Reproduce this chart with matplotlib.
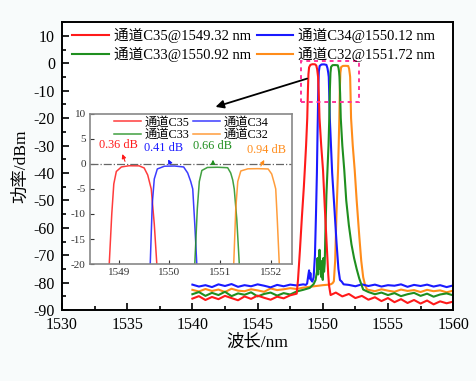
import numpy as np
import matplotlib
matplotlib.use('Agg')
import matplotlib.pyplot as plt
from matplotlib.patches import Rectangle
from matplotlib.ticker import MultipleLocator

plt.rcParams['font.family'] = ['Liberation Serif', 'Noto Sans CJK SC']
plt.rcParams['axes.unicode_minus'] = False

# canales: etiqueta, color
canales = ['C35', 'C34', 'C33', 'C32']
centros = ['1549.32', '1550.12', '1550.92', '1551.72']
colores = ['#ff1a1a', '#1a1aff', '#1f8f1f', '#ff8c1a']
perdidas = ['0.36 dB', '0.41 dB', '0.66 dB', '0.94 dB']

# piso de ruido, muestreado cada 0.5 nm entre 1540 y 1560
fondo_wl = np.arange(1540.0, 1560.01, 0.5)
fondo_c35 = [-85.8, -84.9, -86.3, -85.2, -86.0, -84.8, -85.6, -86.4, -85.0, -85.9, -84.7,
             -85.5, -86.2, -85.1, -85.7, -84.6, -85.3, -84.5, -84.0, -84.0, -84.2, -84.6,
             -83.6, -85.0, -84.1, -85.6, -84.8, -86.2, -85.3, -86.7, -85.6, -87.1, -86.0,
             -87.4, -86.3, -87.6, -86.5, -87.9, -86.8, -87.5, -86.9]
fondo_c34 = [-80.7, -81.4, -80.9, -81.6, -80.6, -81.2, -80.5, -81.5, -80.9, -81.3, -80.6,
             -81.1, -81.7, -80.8, -81.3, -80.7, -81.0, -80.6, -80.5, -80.5, -80.5, -80.5,
             -80.5, -80.5, -80.8, -81.3, -80.6, -81.2, -80.7, -81.4, -80.9, -81.1, -80.6,
             -81.5, -80.8, -81.2, -80.7, -81.4, -80.9, -81.6, -81.0]
fondo_c33 = [-84.2, -83.4, -84.8, -83.7, -84.5, -83.3, -84.9, -83.9, -84.4, -83.5, -85.0,
             -84.1, -83.6, -84.7, -83.8, -84.3, -83.2, -82.6, -81.9, -81.0, -81.0, -81.0,
             -81.0, -81.0, -81.0, -81.0, -82.8, -83.4, -84.2, -83.6, -84.5, -83.8, -84.9,
             -84.2, -83.7, -84.8, -84.0, -85.1, -84.3, -83.9, -84.6]
fondo_c32 = [-82.6, -83.2, -82.3, -83.0, -82.5, -83.4, -82.2, -82.9, -83.1, -82.4, -82.8,
             -83.3, -82.1, -82.7, -82.4, -82.0, -82.3, -81.8, -81.5, -81.2, -80.9, -80.7,
             -81.0, -81.0, -81.0, -81.0, -81.0, -82.6, -83.1, -82.4, -82.9, -83.3, -82.5,
             -83.0, -82.7, -83.4, -82.6, -83.1, -82.8, -83.5, -82.9]

# picos de cada canal (nm, dBm)
pico_c35_wl = [1548.0, 1548.1, 1548.25, 1548.4, 1548.55, 1548.62, 1548.72, 1548.81, 1548.86,
               1548.9, 1548.95, 1549.05, 1549.2, 1549.4, 1549.5, 1549.57, 1549.64, 1549.7,
               1549.75, 1549.88, 1550.02, 1550.15, 1550.3, 1550.42, 1550.48, 1550.6]
pico_c35_p = [-84.0, -79.0, -68.0, -56.0, -45.0, -39.0, -30.0, -20.0, -10.0,
              -4.0, -1.5, -0.6, -0.36, -0.38, -0.8, -2.2, -5.0, -12.0,
              -20.0, -30.0, -39.0, -52.0, -66.0, -77.0, -81.0, -84.5]

pico_c34_wl = [1548.7, 1548.8, 1548.9, 1548.95, 1549.0, 1549.05, 1549.1, 1549.2, 1549.3,
               1549.4, 1549.48, 1549.55, 1549.6, 1549.62, 1549.66, 1549.7, 1549.76, 1549.9,
               1550.1, 1550.28, 1550.36, 1550.42, 1550.46, 1550.5, 1550.54, 1550.63, 1550.72,
               1550.88, 1551.05, 1551.2, 1551.32, 1551.45, 1551.6]
pico_c34_p = [-80.8, -80.3, -77.0, -75.5, -78.5, -76.5, -79.0, -79.6, -78.0,
              -70.0, -55.0, -40.0, -25.0, -20.0, -8.0, -3.0, -1.0, -0.45,
              -0.41, -0.6, -1.8, -3.5, -5.0, -12.0, -20.0, -30.0, -40.0,
              -52.0, -65.0, -75.0, -79.0, -79.6, -80.6]

pico_c33_wl = [1549.3, 1549.45, 1549.55, 1549.6, 1549.65, 1549.7, 1549.75, 1549.8, 1549.85,
               1549.9, 1549.95, 1550.0, 1550.05, 1550.1, 1550.15, 1550.2, 1550.28, 1550.36,
               1550.44, 1550.5, 1550.55, 1550.59, 1550.64, 1550.75, 1550.95, 1551.15, 1551.21,
               1551.25, 1551.28, 1551.33, 1551.38, 1551.5, 1551.65, 1551.8, 1552.0, 1552.2,
               1552.4, 1552.6, 1552.8, 1552.95, 1553.1]
pico_c33_p = [-80.5, -79.0, -76.0, -71.0, -77.0, -73.0, -68.0, -75.0, -72.0,
              -78.0, -74.0, -79.0, -71.0, -76.0, -73.0, -62.0, -48.0, -39.0,
              -30.0, -20.0, -9.0, -3.5, -1.3, -0.7, -0.66, -0.75, -1.8,
              -3.2, -5.0, -11.0, -20.0, -30.0, -39.0, -50.0, -59.0, -66.0,
              -71.0, -75.0, -78.5, -80.5, -82.5]

pico_c32_wl = [1550.6, 1550.75, 1550.85, 1550.95, 1551.05, 1551.17, 1551.22, 1551.27, 1551.31,
               1551.35, 1551.41, 1551.55, 1551.75, 1551.95, 1552.02, 1552.07, 1552.1, 1552.13,
               1552.17, 1552.3, 1552.45, 1552.6, 1552.8, 1552.95, 1553.1, 1553.25, 1553.4]
pico_c32_p = [-80.6, -80.2, -79.5, -72.0, -55.0, -39.0, -30.0, -20.0, -9.0,
              -3.5, -1.4, -0.97, -0.94, -1.0, -2.0, -3.8, -5.0, -11.0,
              -20.0, -30.0, -39.0, -50.0, -63.0, -72.0, -78.0, -81.0, -82.5]

# flechas de perdida en el inset: cola, punta y posicion del texto
flecha_cola = [(1549.14, 0.0), (1550.03, -0.2), (1550.86, -0.4), (1551.78, -0.9)]
flecha_punta = [(1549.05, 2.5), (1549.95, 1.4), (1550.86, 1.4), (1551.9, 1.3)]
texto_pos = [(1548.6, 3.8), (1549.5, 3.2), (1550.47, 3.5), (1551.54, 2.8)]


def juntar(pico_wl, pico_p, fondo_p):
    wl = fondo_wl
    p = np.array(fondo_p)
    fuera = (wl < pico_wl[0]) | (wl > pico_wl[-1])
    x = np.concatenate([wl[fuera], pico_wl])
    y = np.concatenate([p[fuera], pico_p])
    orden = np.argsort(x)
    return x[orden], y[orden]


series = [juntar(pico_c35_wl, pico_c35_p, fondo_c35),
          juntar(pico_c34_wl, pico_c34_p, fondo_c34),
          juntar(pico_c33_wl, pico_c33_p, fondo_c33),
          juntar(pico_c32_wl, pico_c32_p, fondo_c32)]

# la leyenda de 2 columnas se llena por columnas: C35, C33 | C34, C32
orden_leyenda = [0, 2, 1, 3]

fig = plt.figure(figsize=(4.77, 3.81), dpi=100, facecolor='#f8fbfb')
ax = fig.add_axes([0.130, 0.186, 0.820, 0.756])

lineas = [None] * 4
for i in [3, 1, 2, 0]:
    x, y = series[i]
    lineas[i], = ax.plot(x, y, color=colores[i], lw=1.5,
                         label='通道%s@%s nm' % (canales[i], centros[i]))

ax.set_xlim(1530, 1560)
ax.set_ylim(-90, 15)
ax.xaxis.set_major_locator(MultipleLocator(5))
ax.xaxis.set_minor_locator(MultipleLocator(2.5))
ax.yaxis.set_minor_locator(MultipleLocator(5))
ax.set_yticks(np.arange(-90, 11, 10))
ax.tick_params(which='both', direction='in', width=1.2, labelsize=11.5, pad=5)
ax.tick_params(which='major', length=5)
ax.tick_params(which='minor', length=3)
for s in ax.spines.values():
    s.set_linewidth(1.4)
ax.set_xlabel('波长/nm', fontsize=12.5)
ax.set_ylabel('功率/dBm', fontsize=12.5)
ax.xaxis.set_label_coords(0.5, -0.085)
ax.yaxis.set_label_coords(-0.085, 0.5)

ax.legend(handles=[lineas[i] for i in orden_leyenda], ncol=2, loc='upper left',
          bbox_to_anchor=(0.0, 1.015), frameon=False, fontsize=10.5, handlelength=2.5,
          handletextpad=0.35, columnspacing=0.4, labelspacing=0.25, borderaxespad=0.3)

# recuadro de zoom y flecha hacia el inset
ax.add_patch(Rectangle((1548.36, -14.0), 4.42, 14.8, fill=False, ec='#ff3399',
                       ls=(0, (2, 2)), lw=1.4, zorder=5))
ax.annotate('', xy=(1541.57, -16.2), xytext=(1549.0, -5.3),
            arrowprops=dict(arrowstyle='-|>', color='black', lw=1.3, mutation_scale=12))

# inset
axin = fig.add_axes([0.1887, 0.307, 0.4233, 0.394])
lineas_in = [None] * 4
for i in [0, 1, 2, 3]:
    x, y = series[i]
    lineas_in[i], = axin.plot(x, y, color=colores[i], lw=1.1, alpha=0.85,
                              label='通道' + canales[i])
axin.axhline(0, color='#666666', lw=0.9, ls='-.')
axin.set_xlim(1548.43, 1552.42)
axin.set_ylim(-20, 10)
axin.set_xticks([1549, 1550, 1551, 1552])
axin.set_yticks(np.arange(-20, 11, 5))
axin.tick_params(direction='in', length=3, labelsize=8, pad=3, colors='#333333')
for s in axin.spines.values():
    s.set_color('#888888')
    s.set_linewidth(1.2)
axin.legend(handles=[lineas_in[i] for i in orden_leyenda], ncol=2, loc='upper center',
            frameon=False, fontsize=8.8, handlelength=2.2, handletextpad=0.3,
            columnspacing=0.3, labelspacing=0.05, borderaxespad=0.0, borderpad=0.2)

for i in range(4):
    axin.text(texto_pos[i][0], texto_pos[i][1], perdidas[i], color=colores[i],
              fontsize=8.8, va='center')
    axin.annotate('', xy=flecha_punta[i], xytext=flecha_cola[i],
                  arrowprops=dict(arrowstyle='-|>', color=colores[i], lw=0.8,
                                  mutation_scale=6))

fig.savefig('out.png', dpi=100, facecolor=fig.get_facecolor())
